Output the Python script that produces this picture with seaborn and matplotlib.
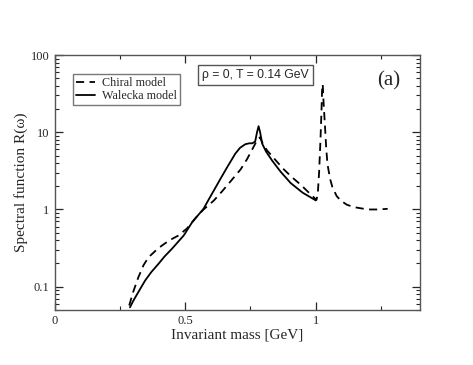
import matplotlib
matplotlib.use("Agg")
import matplotlib.pyplot as plt
import matplotlib.ticker as mticker
import pandas as pd
import seaborn as sns

# Chiral model (dashed)
chiral_mass = [0.285, 0.30, 0.32, 0.34, 0.359, 0.385, 0.41, 0.44, 0.474, 0.507,
               0.54, 0.57, 0.609, 0.64, 0.673, 0.712, 0.737, 0.76, 0.776, 0.786,
               0.80, 0.814, 0.853, 0.878, 0.91, 0.942, 0.97, 0.994, 1.003, 1.008,
               1.013, 1.018, 1.022, 1.025, 1.027, 1.030, 1.035, 1.040, 1.045, 1.055,
               1.064, 1.08, 1.096, 1.12, 1.148, 1.2, 1.24, 1.276]
chiral_R = [0.057, 0.085, 0.132, 0.19, 0.24, 0.29, 0.34, 0.40, 0.46, 0.57,
            0.78, 1.0, 1.3, 1.7, 2.3, 3.3, 4.5, 6.3, 8.0, 8.6,
            6.8, 5.8, 4.1, 3.3, 2.6, 2.1, 1.7, 1.42, 1.33, 1.6,
            3.0, 7.5, 18.0, 40.0, 42.0, 25.0, 13.0, 6.5, 3.9, 2.5,
            1.95, 1.5, 1.3, 1.15, 1.07, 1.0, 1.0, 1.02]

# Walecka model (solid)
walecka_mass = [0.288, 0.30, 0.32, 0.346, 0.37, 0.397, 0.42, 0.449, 0.494, 0.526,
                0.55, 0.57, 0.59, 0.609, 0.635, 0.66, 0.692, 0.71, 0.73, 0.745,
                0.757, 0.768, 0.775, 0.781, 0.787, 0.795, 0.81, 0.833, 0.865, 0.904,
                0.95, 0.994, 1.0]
walecka_R = [0.054, 0.065, 0.085, 0.12, 0.155, 0.197, 0.245, 0.31, 0.46, 0.68,
             0.85, 1.02, 1.35, 1.75, 2.5, 3.5, 5.3, 6.3, 7.0, 7.2,
             7.2, 7.6, 10.0, 12.0, 10.0, 7.1, 5.6, 4.3, 3.1, 2.2,
             1.65, 1.35, 1.31]

x_ticks = [0, 0.5, 1]
x_tick_labels = ["0", "0.5", "1"]
y_ticks = [0.1, 1, 10, 100]
y_tick_labels = ["0.1", "1", "10", "100"]

sns.set_style("ticks")
plt.rcParams["font.family"] = ["Liberation Serif", "DejaVu Serif"]

df_chiral = pd.DataFrame({"m": chiral_mass, "R": chiral_R})
df_walecka = pd.DataFrame({"m": walecka_mass, "R": walecka_R})

fig = plt.figure(figsize=(4.73, 3.65), dpi=100)
ax = fig.add_axes([0.116, 0.151, 0.772, 0.698])

sns.lineplot(data=df_chiral, x="m", y="R", ax=ax, color="black", lw=1.3,
             linestyle=(0, (4.5, 3)), label="Chiral model", sort=False)
sns.lineplot(data=df_walecka, x="m", y="R", ax=ax, color="black", lw=1.3,
             label="Walecka model", sort=False)

ax.set_yscale("log")
ax.set_xlim(0, 1.4)
ax.set_ylim(0.05, 100)

ax.set_xticks(x_ticks)
ax.set_xticklabels(x_tick_labels)
ax.xaxis.set_minor_locator(mticker.MultipleLocator(0.25))
ax.set_yticks(y_ticks)
ax.set_yticklabels(y_tick_labels)
ax.yaxis.set_minor_locator(mticker.LogLocator(base=10, subs=range(2, 10)))
ax.yaxis.set_minor_formatter(mticker.NullFormatter())

ax.tick_params(which="both", direction="in", top=True, right=True, labelsize=9, pad=4)
ax.tick_params(which="major", length=6, width=0.9)
ax.tick_params(which="minor", length=3, width=0.8)
for sp in ax.spines.values():
    sp.set_linewidth(1.0)
    sp.set_color("#555555")

ax.set_xlabel("Invariant mass [GeV]", fontsize=11, labelpad=1)
ax.set_ylabel("Spectral function R(ω)", fontsize=11, labelpad=2)

leg = ax.legend(loc="upper left", bbox_to_anchor=(0.049, 0.925), borderaxespad=0,
                fontsize=8.7, frameon=True, fancybox=False, edgecolor="#555555",
                handlelength=1.6, borderpad=0.25, labelspacing=0.1, handletextpad=0.6)
leg.get_frame().set_linewidth(1.0)

ax.text(0.403, 0.945, "ρ = 0, T = 0.14 GeV", transform=ax.transAxes,
        fontsize=8.8, family=["Liberation Sans", "DejaVu Sans"], va="top", ha="left",
        bbox=dict(boxstyle="square,pad=0.35", fc="white", ec="#555555", lw=1.0))
ax.text(0.915, 0.935, "(a)", transform=ax.transAxes, fontsize=15, va="top", ha="center")

fig.savefig("out.png", dpi=100)
